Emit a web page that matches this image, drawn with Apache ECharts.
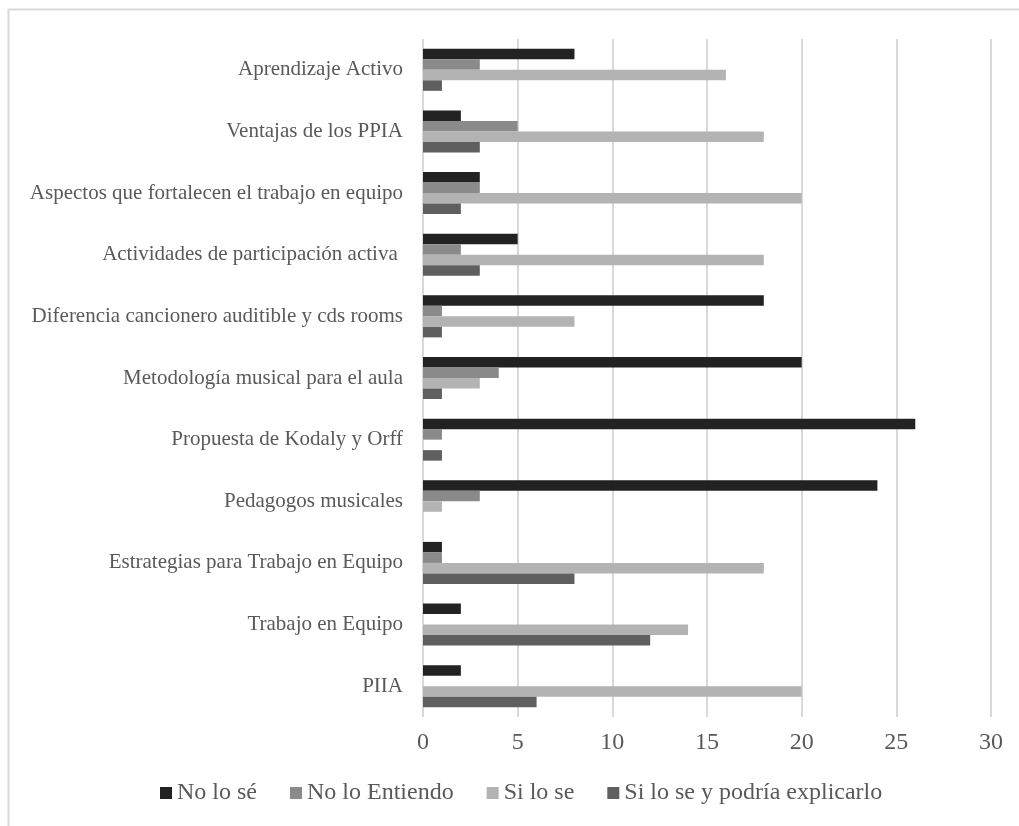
<!DOCTYPE html>
<html>
<head>
<meta charset="utf-8">
<script src="https://cdn.jsdelivr.net/npm/echarts@6/dist/echarts.min.js"></script>
<style>
html,body{margin:0;padding:0;background:#fff;}
#chart{width:1019px;height:826px;}
</style>
</head>
<body>
<div id="chart"></div>
<script>
// Categories, top to bottom as shown
const categories = [
  "Aprendizaje Activo",
  "Ventajas de los PPIA",
  "Aspectos que fortalecen el trabajo en equipo",
  "Actividades de participación activa ",
  "Diferencia cancionero auditible y cds rooms",
  "Metodología musical para el aula",
  "Propuesta de Kodaly y Orff",
  "Pedagogos musicales",
  "Estrategias para Trabajo en Equipo",
  "Trabajo en Equipo",
  "PIIA"
];
const seriesNames = ["No lo sé", "No lo Entiendo", "Si lo se", "Si lo se y podría explicarlo"];
const noLoSe        = [8, 2, 3, 5, 18, 20, 26, 24, 1, 2, 2];
const noLoEntiendo  = [3, 5, 3, 2, 1, 4, 1, 3, 1, 0, 0];
const siLoSe        = [16, 18, 20, 18, 8, 3, 0, 1, 18, 14, 20];
const siLoSeExplica = [1, 3, 2, 3, 1, 1, 1, 0, 8, 12, 6];
const xTicks = [0, 5, 10, 15, 20, 25, 30];

const colors = ["#222222", "#8a8a8a", "#b3b3b3", "#5f5f5f"];
const values = [noLoSe, noLoEntiendo, siLoSe, siLoSeExplica];
const font = "'Liberation Serif', 'Times New Roman', serif";

const chart = echarts.init(document.getElementById('chart'));
const series = seriesNames.map((n, i) => ({
  name: n,
  type: 'bar',
  data: values[i],
  barWidth: 10.5,
  barGap: '0%',
  itemStyle: { color: colors[i] },
  emphasis: { disabled: true }
}));

chart.setOption({
  animation: false,
  textStyle: { fontFamily: font },
  graphic: [
    { type: 'line', shape: { x1: 8, y1: 9.5, x2: 1019, y2: 9.5 }, style: { stroke: '#d9d9d9', lineWidth: 2 } },
    { type: 'line', shape: { x1: 8.5, y1: 9, x2: 8.5, y2: 826 }, style: { stroke: '#d9d9d9', lineWidth: 2 } }
  ],
  grid: { left: 423, right: 28, top: 39, bottom: 109, containLabel: false },
  legend: {
    data: seriesNames,
    bottom: 16,
    left: 155,
    itemWidth: 12,
    itemHeight: 12,
    itemGap: 33,
    icon: 'rect',
    textStyle: { fontFamily: font, fontSize: 24, color: '#595959' }
  },
  xAxis: {
    type: 'value',
    min: xTicks[0],
    max: xTicks[xTicks.length - 1],
    interval: 5,
    axisLine: { show: false },
    axisTick: { show: false },
    splitLine: { show: true, lineStyle: { color: '#d9d9d9', width: 2 } },
    axisLabel: { fontFamily: font, fontSize: 24, color: '#595959', margin: 14 }
  },
  yAxis: {
    type: 'category',
    data: categories,
    inverse: true,
    axisLine: { show: false },
    axisTick: { show: false },
    axisLabel: { fontFamily: font, fontSize: 21, color: '#595959', margin: 20 }
  },
  series: series
});
</script>
</body>
</html>
